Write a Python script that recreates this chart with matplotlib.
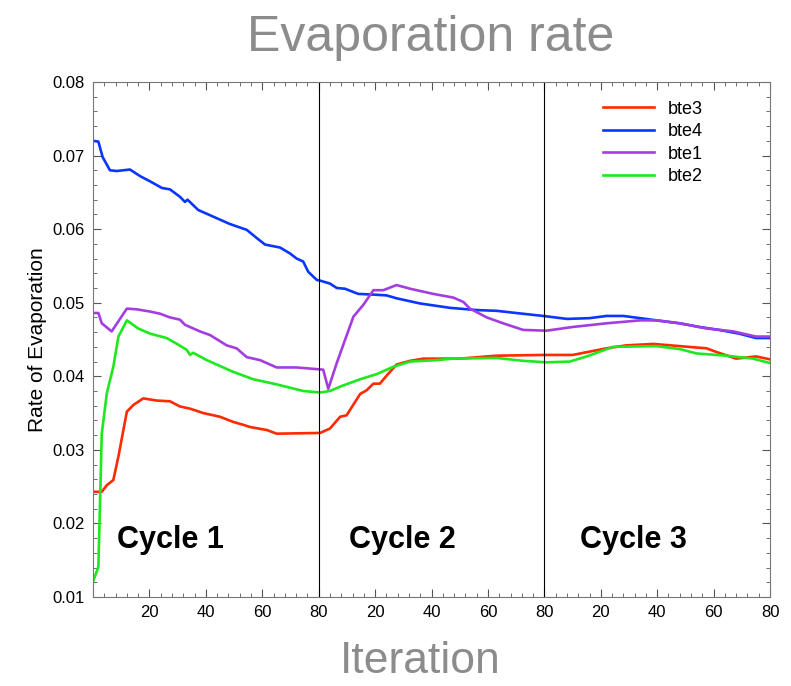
import matplotlib.pyplot as plt
from matplotlib.ticker import MultipleLocator, FuncFormatter

plt.rcParams['font.family'] = ['Liberation Sans', 'DejaVu Sans']

# Данные (итерации 0..240 = три цикла по 80)
bte4_x = [0, 1.9, 3.4, 6, 8.4, 13.1, 16.7, 20.2, 24.4, 27.3, 30.8, 32.6, 33.5, 37.3, 42.6,
          48.5, 54.5, 58, 61, 66.3, 69.8, 72.2, 74.5, 76.3, 79.3, 80.5, 84, 86.4, 89.3, 94,
          99.4, 104, 107.6, 115.9, 126.6, 136, 143, 150, 159.6, 168, 176, 182, 188, 194, 199.8,
          208, 215, 222, 229, 235, 240]
bte4_y = [0.0720, 0.0719, 0.0698, 0.0680, 0.0679, 0.0681, 0.0672, 0.0665, 0.0656, 0.0654,
          0.0644, 0.0637, 0.0640, 0.0626, 0.0617, 0.0607, 0.0599, 0.0588, 0.0579, 0.0575,
          0.0567, 0.0560, 0.0556, 0.0542, 0.0531, 0.0530, 0.0526, 0.0520, 0.0519, 0.0512,
          0.0511, 0.0510, 0.0506, 0.0499, 0.0493, 0.0490, 0.0489, 0.0486, 0.0482, 0.0478,
          0.0479, 0.0482, 0.0482, 0.0479, 0.0476, 0.0472, 0.0467, 0.0463, 0.0458, 0.0452,
          0.0452]

bte1_x = [0, 1.9, 3.1, 6.6, 12, 15.5, 20.2, 23.8, 27.3, 30.8, 32.6, 37.9, 41.5, 47.4, 50.9,
          54.5, 59.2, 65.1, 72.2, 81.6, 83.4, 86.4, 89.3, 92.3, 95.8, 99.4, 102.9, 107.6, 112.4,
          120.6, 127.7, 131.3, 133.6, 139.6, 145.4, 152.5, 160.8, 170, 182, 194, 199.8, 208,
          217.5, 227, 235, 240]
bte1_y = [0.0486, 0.0486, 0.0472, 0.0461, 0.0492, 0.0491, 0.0488, 0.0485, 0.0480, 0.0477,
          0.0470, 0.0461, 0.0456, 0.0442, 0.0438, 0.0426, 0.0422, 0.0412, 0.0412, 0.0409,
          0.0383, 0.0418, 0.0449, 0.0481, 0.0497, 0.0517, 0.0517, 0.0524, 0.0519, 0.0512,
          0.0507, 0.0501, 0.0492, 0.0480, 0.0472, 0.0463, 0.0462, 0.0467, 0.0472, 0.0476,
          0.0476, 0.0472, 0.0465, 0.0461, 0.0454, 0.0454]

bte2_x = [0, 1.9, 3.1, 4.9, 7.2, 9, 12, 16, 20.2, 26.1, 30.2, 33.2, 34.4, 35.5, 40.3, 45,
          49.7, 56.8, 65.1, 74.5, 80.5, 84, 87.6, 94.7, 100.6, 106.5, 112.4, 121.8, 127.7, 143,
          152.5, 160.8, 169, 175, 184.4, 199.8, 208, 214, 224.6, 234, 240]
bte2_y = [0.0121, 0.0141, 0.0322, 0.0377, 0.0413, 0.0454, 0.0476, 0.0465, 0.0458, 0.0452,
          0.0443, 0.0436, 0.0429, 0.0432, 0.0422, 0.0414, 0.0406, 0.0396, 0.0389, 0.0380,
          0.0378, 0.0380, 0.0386, 0.0396, 0.0403, 0.0413, 0.0420, 0.0422, 0.0424, 0.0425,
          0.0421, 0.0419, 0.0420, 0.0427, 0.0440, 0.0441, 0.0437, 0.0431, 0.0428, 0.0424,
          0.0418]

bte3_x = [0, 3.1, 4.9, 7.2, 9, 12, 14.3, 17.8, 22.6, 27.3, 30.8, 34.4, 39.1, 45, 49.7, 53.3,
          55.7, 61.6, 65.1, 80.5, 84, 87.6, 89.9, 94.7, 97, 99.4, 101.7, 104.1, 107.6, 112.4,
          117.1, 130, 143, 159.6, 170, 182, 189, 198.6, 208, 217.5, 221, 228, 235, 240]
bte3_y = [0.0243, 0.0243, 0.0252, 0.0259, 0.0291, 0.0352, 0.0361, 0.0370, 0.0367, 0.0366,
          0.0359, 0.0356, 0.0350, 0.0345, 0.0338, 0.0334, 0.0331, 0.0327, 0.0322, 0.0323,
          0.0329, 0.0345, 0.0347, 0.0376, 0.0381, 0.0390, 0.0390, 0.0401, 0.0416, 0.0421,
          0.0424, 0.0424, 0.0428, 0.0429, 0.0429, 0.0438, 0.0442, 0.0444, 0.0441, 0.0438,
          0.0433, 0.0424, 0.0427, 0.0423]

cycle_len = 80
cycle_labels = ['Cycle 1', 'Cycle 2', 'Cycle 3']
cycle_text_x = [27.5, 109.5, 191.5]

fig = plt.figure(figsize=(7.91, 6.86), dpi=100)
ax = fig.add_axes([0.1176, 0.1297, 0.8559, 0.7508])

ax.plot(bte3_x, bte3_y, color='#ff2a00', lw=1.9, label='bte3')
ax.plot(bte4_x, bte4_y, color='#0a36ff', lw=1.9, label='bte4')
ax.plot(bte1_x, bte1_y, color='#a43de0', lw=1.9, label='bte1')
ax.plot(bte2_x, bte2_y, color='#1ee81e', lw=1.9, label='bte2')

# границы циклов
for k in range(1, len(cycle_labels)):
    ax.axvline(k * cycle_len, color='black', lw=0.8)

for tx, lab in zip(cycle_text_x, cycle_labels):
    ax.text(tx, 0.0177, lab, ha='center', va='center', fontsize=22, fontweight='bold')

ax.set_xlim(0, 240)
ax.set_ylim(0.01, 0.08)
ax.xaxis.set_major_locator(MultipleLocator(20))
ax.xaxis.set_minor_locator(MultipleLocator(4))
ax.yaxis.set_major_locator(MultipleLocator(0.01))
ax.yaxis.set_minor_locator(MultipleLocator(0.002))
ax.xaxis.set_major_formatter(FuncFormatter(
    lambda v, p: '' if v <= 0 else str(int(round(v - 1)) % cycle_len + 1)))
ax.yaxis.set_major_formatter(FuncFormatter(lambda v, p: f'{v:.2f}'))
ax.tick_params(which='both', direction='in', top=True, right=True, color='#555555')
ax.tick_params(which='major', length=6, labelsize=12, pad=6)
ax.tick_params(which='minor', length=3)
for sp in ax.spines.values():
    sp.set_color('#777777')

ax.set_ylabel('Rate of Evaporation', fontsize=15)
ax.legend(loc='upper right', frameon=False, fontsize=13, handlelength=2.8,
          labelspacing=0.3, bbox_to_anchor=(0.925, 0.995))

fig.text(0.545, 0.945, 'Evaporation rate', ha='center', va='center',
         fontsize=36, color='#8c8c8c')
fig.text(0.531, 0.036, 'Iteration', ha='center', va='center',
         fontsize=32, color='#8c8c8c')

fig.savefig('out.png', dpi=100)
